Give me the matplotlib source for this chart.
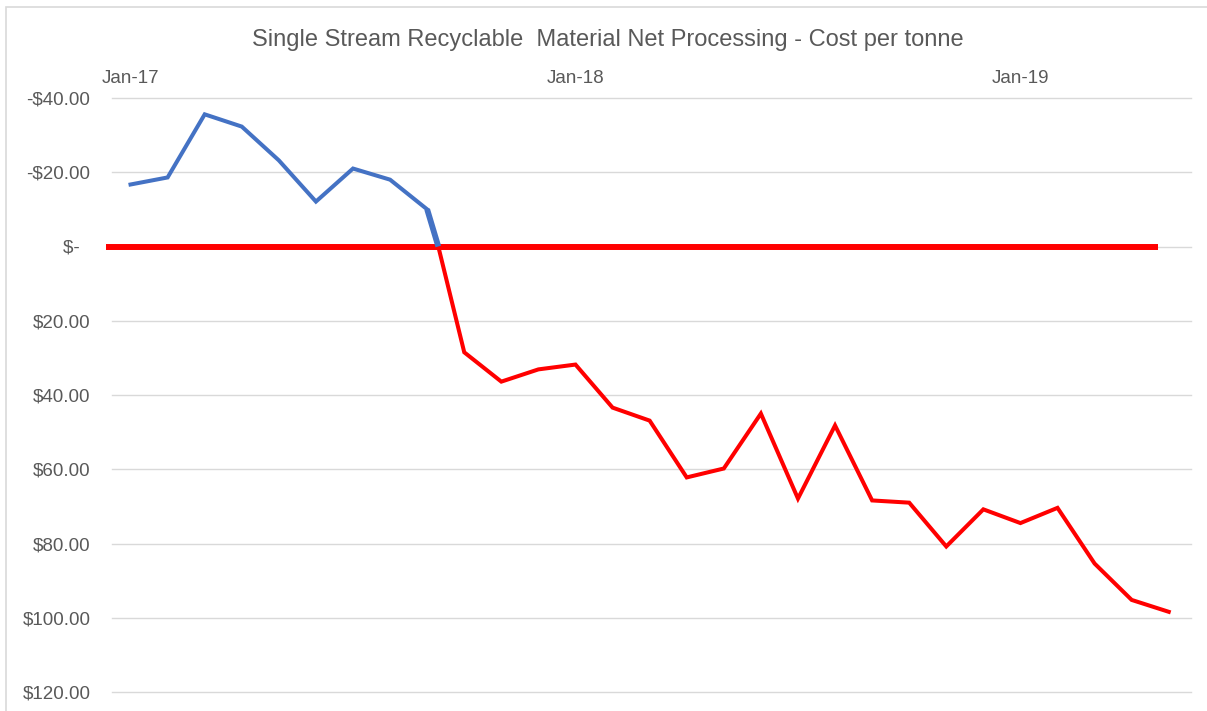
import matplotlib
matplotlib.use("Agg")
import matplotlib.pyplot as plt
from matplotlib.patches import Rectangle

plt.rcParams['font.family'] = ['Liberation Sans', 'DejaVu Sans']

title = "Single Stream Recyclable  Material Net Processing - Cost per tonne"

# month index 0 = Jan-17
blue_x = [0, 1, 2, 3, 4, 5, 6, 7, 8]
blue_y = [-16.7, -18.6, -35.6, -32.3, -23.2, -12.1, -21.0, -18.0, -10.0]
cross_x = 8.3
cross_y = 0.0

red_x = list(range(9, 29))
red_y = [28.5, 36.4, 33.1, 31.8, 43.4, 46.9, 62.2, 59.8, 45.0, 67.9,
         48.2, 68.4, 69.0, 80.8, 70.8, 74.5, 70.4, 85.4, 95.2, 98.4]

zero_line_x = [-0.65, 27.7]
zero_line_y = [0, 0]

xtick_pos = [0, 12, 24]
xtick_labels = ["Jan-17", "Jan-18", "Jan-19"]
ytick_pos = [-40, -20, 0, 20, 40, 60, 80, 100, 120]
ytick_labels = ["-$40.00", "-$20.00", "$-  ", "$20.00", "$40.00", "$60.00",
                "$80.00", "$100.00", "$120.00"]

fig = plt.figure(figsize=(12.07, 7.11), dpi=100)
ax = fig.add_axes([112/1207, 1-692/711, (1191-112)/1207, (692-98)/711])

ax.set_xlim(-0.5, 28.6)
ax.set_ylim(120, -40)

ax.grid(axis='y', color='#D9D9D9', lw=1.0)
ax.set_axisbelow(True)
for s in ax.spines.values():
    s.set_visible(False)

ax.set_yticks(ytick_pos)
ax.set_yticklabels(ytick_labels)
ax.set_xticks(xtick_pos)
ax.set_xticklabels(xtick_labels)
ax.xaxis.tick_top()
ax.tick_params(axis='both', length=0, labelcolor='#595959', labelsize=13.5)
ax.tick_params(axis='y', pad=15.5)
ax.tick_params(axis='x', pad=8)
for gl in ax.get_ygridlines():
    gl.set_clip_on(False)

ax.plot(zero_line_x, zero_line_y, color='#FF0000', lw=4.3, solid_capstyle='butt',
        clip_on=False, zorder=3)
ax.plot(blue_x, blue_y, color='#4472C4', lw=2.9, solid_joinstyle='miter', zorder=4)
ax.plot([blue_x[-1], cross_x], [blue_y[-1], cross_y], color='#4472C4', lw=4.2,
        solid_capstyle='butt', zorder=4)
ax.plot([cross_x] + red_x, [cross_y] + red_y, color='#FF0000', lw=2.9,
        solid_joinstyle='miter', zorder=3)

fig.text(608/1207, 1-40/711, title, ha='center', va='center', fontsize=17,
         color='#595959')

fig.patches.append(Rectangle((6/1207, -0.1), 1.2, 1-7/711+0.1,
                             transform=fig.transFigure, fill=False,
                             edgecolor='#D9D9D9', lw=1.2))

fig.savefig("out.png", dpi=100, facecolor='white')
